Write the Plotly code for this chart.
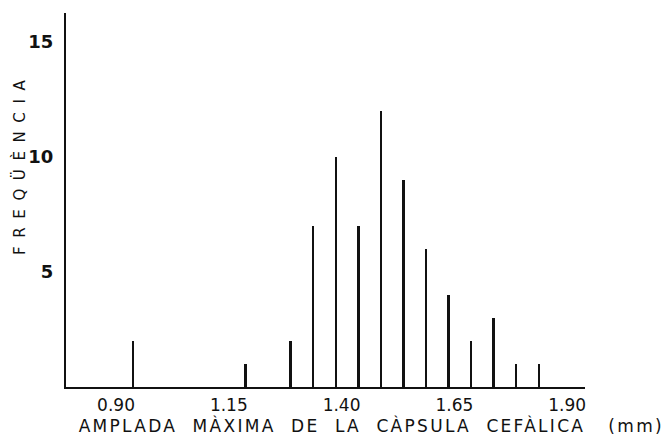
import plotly.graph_objects as go

# Data
head_width_mm = [0.90, 1.15, 1.25, 1.30, 1.35, 1.40, 1.45, 1.50, 1.55, 1.60, 1.65, 1.70, 1.75, 1.80]
frequency = [2, 1, 2, 7, 10, 7, 12, 9, 6, 4, 2, 3, 1, 1]
x_tick_vals = [0.90, 1.15, 1.40, 1.65, 1.90]
x_tick_text = ["0.90", "1.15", "1.40", "1.65", "1.90"]
y_tick_vals = [5, 10, 15]
y_tick_text = ["5", "10", "15"]
x_title = "AMPLADA  MÀXIMA  DE  LA  CÀPSULA  CEFÀLICA   (mm)"
y_title = "FREQÜÈNCIA"

FONT = "DejaVu Sans"

fig = go.Figure()
fig.add_trace(go.Bar(
    x=head_width_mm,
    y=frequency,
    width=0.0044,
    marker=dict(color="#111111", line=dict(width=0)),
    hoverinfo="x+y",
    showlegend=False,
))

fig.update_layout(
    width=663,
    height=435,
    margin=dict(l=66, r=78, t=13, b=48),
    paper_bgcolor="white",
    plot_bgcolor="white",
    bargap=0,
    xaxis=dict(
        range=[0.7514, 1.902],
        showgrid=False,
        zeroline=False,
        showline=True,
        linecolor="#111111",
        linewidth=2,
        ticks="",
        tickvals=x_tick_vals,
        ticktext=x_tick_text,
        ticklabelshift=-17,
        ticklabelstandoff=2,
        tickfont=dict(family=FONT, size=17, color="#111111"),
    ),
    yaxis=dict(
        range=[0, 16.26],
        showgrid=False,
        zeroline=False,
        showline=True,
        linecolor="#111111",
        linewidth=2,
        ticks="",
        tickvals=y_tick_vals,
        ticktext=y_tick_text,
        ticklabelstandoff=7,
        tickfont=dict(family=FONT, size=18, color="#111111", weight="bold"),
    ),
    annotations=[
        dict(
            text=x_title,
            xref="paper", yref="paper",
            x=0.589, y=-0.103,
            xanchor="center", yanchor="middle",
            showarrow=False,
            font=dict(family=FONT, size=17, color="#111111"),
        ),
        dict(
            text=y_title,
            xref="paper", yref="paper",
            x=-0.09, y=0.6,
            xanchor="center", yanchor="middle",
            textangle=-90,
            showarrow=False,
            font=dict(family=FONT, size=15, color="#111111"),
        ),
    ],
)

post = """
(function(){
  function spacing(){
    var anns = document.querySelectorAll('.annotation-text');
    if (anns.length >= 2) {
      anns[0].style.letterSpacing = '2.3px';
      anns[1].style.letterSpacing = '8.6px';
    }
  }
  spacing();
  var gd = document.getElementById('{plot_id}');
  if (gd && gd.on) { gd.on('plotly_afterplot', spacing); }
})();
"""

fig.write_html("out.html", post_script=post)
